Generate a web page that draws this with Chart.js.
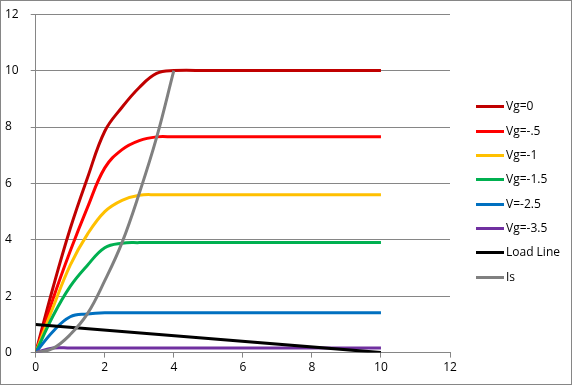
<!DOCTYPE html>
<html>
<head>
<meta charset="utf-8">
<script src="https://cdn.jsdelivr.net/npm/chart.js@4"></script>
<style>
  html, body { margin: 0; padding: 0; background: #fff; }
  #wrap { width: 570px; height: 383px; border: 1px solid #868686; }
</style>
</head>
<body>
<div id="wrap"><canvas id="chart" width="570" height="383"></canvas></div>
<script>
// Drain voltage (x) and drain current (y)
const vdsFine = [0, 0.5, 1, 1.5, 2, 2.5, 3, 3.5, 4, 5, 6, 7, 8, 9, 10];
const idVg0   = [0, 2.3, 4.4, 6.2, 7.85, 8.7, 9.4, 9.9, 10, 10, 10, 10, 10, 10, 10];
const idVg05  = [0, 1.9, 3.6, 5.15, 6.55, 7.2, 7.52, 7.65, 7.65, 7.65, 7.65, 7.65, 7.65, 7.65, 7.65];
const idVg1   = [0, 1.6, 3.1, 4.2, 5.0, 5.4, 5.58, 5.6, 5.6, 5.6, 5.6, 5.6, 5.6, 5.6, 5.6];
const idVg15  = [0, 1.3, 2.35, 3.1, 3.72, 3.88, 3.9, 3.9, 3.9, 3.9, 3.9, 3.9, 3.9, 3.9, 3.9];
const idV25   = [0, 0.75, 1.27, 1.37, 1.41, 1.41, 1.41, 1.41, 1.41, 1.41, 1.41, 1.41, 1.41, 1.41, 1.41];
const idVg35  = [0, 0.16, 0.16, 0.16, 0.16, 0.16, 0.16, 0.16, 0.16, 0.16, 0.16, 0.16, 0.16, 0.16, 0.16];
const loadX   = [0, 10];
const loadY   = [1, 0];
const isX     = [0, 0.5, 1, 1.5, 2, 2.5, 3, 3.5, 4];
const isY     = [0, 0.15, 0.64, 1.38, 2.55, 3.9, 5.65, 7.62, 10];

const seriesNames  = ['Vg=0', 'Vg=-.5', 'Vg=-1', 'Vg=-1.5', 'V=-2.5', 'Vg=-3.5', 'Load Line', 'Is'];
const seriesColors = ['#C00000', '#FF0000', '#FFC000', '#00B050', '#0070C0', '#7030A0', '#000000', '#808080'];
const axisTicks = [0, 2, 4, 6, 8, 10, 12];

const toPoints = (xs, ys) => xs.map((x, i) => ({ x: x, y: ys[i] }));
const seriesData = [
  toPoints(vdsFine, idVg0),
  toPoints(vdsFine, idVg05),
  toPoints(vdsFine, idVg1),
  toPoints(vdsFine, idVg15),
  toPoints(vdsFine, idV25),
  toPoints(vdsFine, idVg35),
  toPoints(loadX, loadY),
  toPoints(isX, isY)
];

const fontFamily = "'Open Sans', sans-serif";
const font = { family: fontFamily, size: 12 };

// Excel-style legend on the right: short thick line + label
const sideLegend = {
  id: 'sideLegend',
  afterDraw(chart) {
    const ctx = chart.ctx;
    const step = 24.3;
    const n = chart.data.datasets.length;
    const top = chart.height / 2 - step * (n - 1) / 2 - 1;
    const x0 = 475;
    ctx.save();
    ctx.font = '12px ' + fontFamily;
    ctx.textBaseline = 'middle';
    ctx.textAlign = 'left';
    chart.data.datasets.forEach((ds, i) => {
      const y = Math.round(top + i * step) + 0.5;
      ctx.strokeStyle = ds.borderColor;
      ctx.lineWidth = 3;
      ctx.beginPath();
      ctx.moveTo(x0, y);
      ctx.lineTo(x0 + 28, y);
      ctx.stroke();
      ctx.fillStyle = '#000';
      ctx.fillText(ds.label, x0 + 30, y);
    });
    ctx.restore();
  }
};

new Chart(document.getElementById('chart'), {
  type: 'line',
  data: {
    datasets: seriesData.map((pts, i) => ({
      label: seriesNames[i],
      data: pts,
      borderColor: seriesColors[i],
      backgroundColor: seriesColors[i],
      borderWidth: 3,
      pointRadius: 0,
      tension: 0.4,
      fill: false,
      order: -i // later series drawn on top, like Excel
    }))
  },
  options: {
    responsive: false,
    animation: false,
    layout: { padding: { left: 4, top: 9, right: 121, bottom: 6 } },
    plugins: {
      tooltip: { enabled: false },
      legend: { display: false }
    },
    scales: {
      x: {
        type: 'linear',
        min: 0,
        max: 12,
        afterBuildTicks: axis => { axis.ticks = axisTicks.map(v => ({ value: v })); },
        ticks: { color: '#000', font: font, padding: 3, maxRotation: 0 },
        grid: { drawOnChartArea: false, drawTicks: true, tickLength: 5, color: '#868686' },
        border: { color: '#868686' }
      },
      y: {
        min: 0,
        max: 12,
        afterBuildTicks: axis => { axis.ticks = axisTicks.map(v => ({ value: v })); },
        ticks: { color: '#000', font: font, padding: 6, crossAlign: 'far' },
        grid: { color: '#868686', tickLength: 5 },
        border: { color: '#868686' }
      }
    }
  },
  plugins: [sideLegend]
});
</script>
</body>
</html>
